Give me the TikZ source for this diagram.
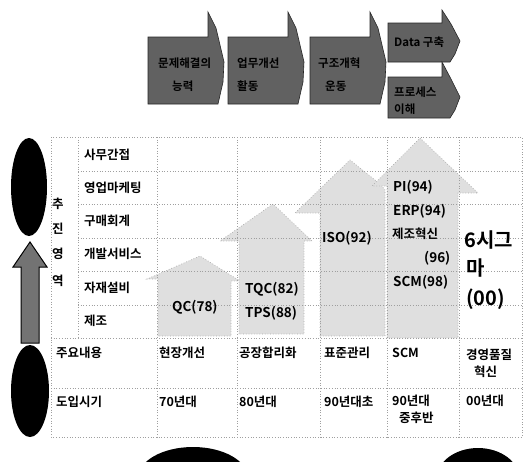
\documentclass[tikz,border=0pt]{standalone}
\usepackage{fontspec}
\setmainfont{Noto Sans CJK KR}[BoldFont={Noto Sans CJK KR Bold}]
\begin{document}
\begin{tikzpicture}[x=1pt,y=-1pt,
  gridline/.style={gray!75, dotted, line width=0.7pt},
  house/.style={fill=gray!25, draw=gray!65, dotted, line width=0.7pt},
  chev/.style={fill=black!62, draw=black!85, line width=0.6pt},
  blob/.style={fill=black},
  lbl/.style={anchor=west, inner sep=0pt, font=\fontsize{12.5}{13}\selectfont\bfseries},
  tag/.style={anchor=west, inner sep=0pt, font=\fontsize{13.5}{14}\selectfont\bfseries},
  chevtxt/.style={anchor=west, inner sep=0pt, color=black, text=black, font=\fontsize{11.5}{12}\selectfont\bfseries},
  bigtxt/.style={anchor=west, inner sep=0pt, font=\fontsize{20}{21}\selectfont\bfseries}]
\useasboundingbox (0,0) rectangle (532,461);

% top chevrons
\foreach \sx in {148,228,310}{
  \fill[chev] (\sx,37) -- (\sx+60,37) -- (\sx+60,12) -- (\sx+68,28) -- (\sx+76,62) -- (\sx+75,82) -- (\sx+70,104) -- (\sx,104) -- cycle;
}
\fill[chev] (388,23) -- (442,23) -- (442,10) -- (451,24) -- (460,41) -- (455,54) -- (450,62) -- (388,62) -- cycle;
\fill[chev] (388,77) -- (442,77) -- (442,62) -- (451,79) -- (460,97) -- (455,110) -- (450,118) -- (388,118) -- cycle;
\node[chevtxt] (c1a) at (158,63) {문제해결의};
\node[chevtxt] (c1b) at (172,86) {능력};
\node[chevtxt] (c2a) at (237,63) {업무개선};
\node[chevtxt] (c2b) at (237,86) {활동};
\node[chevtxt] (c3a) at (318,63) {구조개혁};
\node[chevtxt] (c3b) at (325,86) {운동};
\node[chevtxt] (c4) at (394,42) {Data 구축};
\node[chevtxt] (c5a) at (394,92) {프로세스};
\node[chevtxt] (c5b) at (394,109) {이해};

% left shapes
\fill[blob] (29,187) ellipse [x radius=18pt, y radius=49pt];
\fill[blob] (30,391) ellipse [x radius=19pt, y radius=46pt];
\filldraw[fill=black!55, draw=black, line width=1pt] (30,242) -- (47,267) -- (39,267) -- (39,343) -- (21,343) -- (21,267) -- (13,267) -- cycle;

% bottom ellipses
\fill[blob] (193,478) ellipse [x radius=55pt, y radius=31pt];
\fill[blob] (478,480) ellipse [x radius=42pt, y radius=32pt];

% houses
\filldraw[house] (158,336) -- (158,279) -- (147,279) -- (200,256) -- (240,281) -- (231,281) -- (231,336) -- cycle;
\filldraw[house] (239,334) -- (239,241) -- (220,241) -- (273,204) -- (312,241) -- (304,241) -- (304,334) -- cycle;
\filldraw[house] (320,336) -- (320,213) -- (295,213) -- (350,160) -- (380,184) -- (385,190) -- (385,336) -- cycle;
\filldraw[house] (387,338) -- (387,186) -- (372,186) -- (420,138) -- (478,193) -- (458,193) -- (458,338) -- cycle;

% table grid
\draw[gridline] (51,137) rectangle (522,437);
\draw[gridline] (78,137) -- (78,338);
\foreach \yy in {171,204,238,271,305}{ \draw[gridline] (78,\yy) -- (522,\yy); }
\foreach \yy in {338,388}{ \draw[gridline] (51,\yy) -- (522,\yy); }
\foreach \xx in {157,237,320,387,459}{ \draw[gridline] (\xx,137) -- (\xx,437); }

% left vertical label
\node[lbl] (v1) at (52,204) {추};
\node[lbl] (v2) at (52,229) {진};
\node[lbl] (v3) at (52,254) {영};
\node[lbl] (v4) at (52,281) {역};

% row labels
\node[lbl] (r1) at (84,155) {사무간접};
\node[lbl] (r2) at (84,188) {영업마케팅};
\node[lbl] (r3) at (84,221) {구매회계};
\node[lbl] (r4) at (84,254) {개발서비스};
\node[lbl] (r5) at (84,288) {자재설비};
\node[lbl] (r6) at (84,321) {제조};

% house labels
\node[tag] (qc) at (172,307) {QC(78)};
\node[tag] (tqc) at (245,289) {TQC(82)};
\node[tag] (tps) at (245,313) {TPS(88)};
\node[tag] (iso) at (322,238) {ISO(92)};
\node[tag] (pi) at (393,187) {PI(94)};
\node[tag] (erp) at (393,211) {ERP(94)};
\node[lbl] (jh) at (392,234) {제조혁신};
\node[tag] (j96) at (424,258) {(96)};
\node[tag] (scm98) at (393,282) {SCM(98)};
\node[bigtxt] (six1) at (464,240) {6시그};
\node[bigtxt] (six2) at (466,268) {마};
\node[bigtxt] (six3) at (466,299) {(00)};

% bottom rows
\node[lbl] (k1) at (56,353) {주요내용};
\node[lbl] (k2) at (159,353) {현장개선};
\node[lbl] (k3) at (239,353) {공장합리화};
\node[lbl] (k4) at (324,353) {표준관리};
\node[lbl] (k5) at (392,353) {SCM};
\node[lbl] (k6) at (466,355) {경영품질};
\node[lbl] (k6b) at (474,372) {혁신};
\node[lbl] (d1) at (56,402) {도입시기};
\node[lbl] (d2) at (159,402) {70년대};
\node[lbl] (d3) at (239,402) {80년대};
\node[lbl] (d4) at (324,402) {90년대초};
\node[lbl] (d5) at (392,401) {90년대};
\node[lbl] (d5b) at (399,418) {중후반};
\node[lbl] (d6) at (466,401) {00년대};
\end{tikzpicture}
\end{document}
